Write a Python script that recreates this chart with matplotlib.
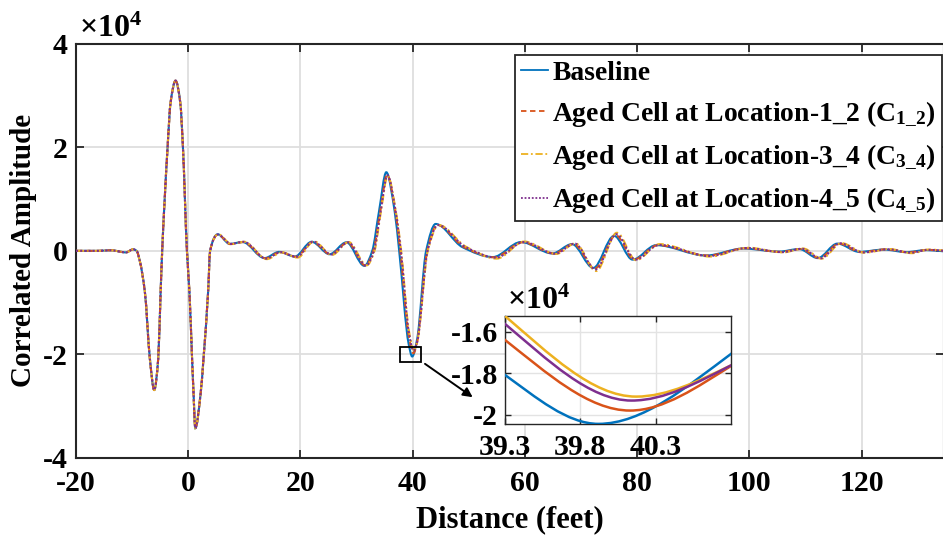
import numpy as np
import matplotlib
matplotlib.use("Agg")
import matplotlib.pyplot as plt
from matplotlib.path import Path
from matplotlib.patches import PathPatch, Rectangle
from matplotlib.lines import Line2D

plt.rcParams['font.family'] = ['Liberation Serif', 'DejaVu Serif']
plt.rcParams['font.weight'] = 'bold'
plt.rcParams['axes.unicode_minus'] = False
plt.rcParams['mathtext.fontset'] = 'custom'
plt.rcParams['mathtext.rm'] = 'Liberation Serif:bold'
plt.rcParams['mathtext.bf'] = 'Liberation Serif:bold'
plt.rcParams['mathtext.it'] = 'Liberation Serif:italic:bold'

# ---- correlated amplitude, key samples (distance in feet, amplitude) ----
base_x = [-20, -16, -13.8, -11.1, -9.8, -9.2, -8.6, -7.72, -6.83, -6.06, -5.35, -4.92,
          -4.64, -3.68, -3.14, -2.25, -1.42, -0.94, -0.23, 0.22, 0.69, 0.94, 1.26, 2.24,
          2.72, 3.54, 3.9, 5.26, 7.4, 9.7, 13.6, 16.2, 19.0, 22.0, 25.2, 28.2, 31.4,
          32.8, 34.0, 35.3, 36.8, 37.6, 39.3, 39.92, 40.8, 42.4, 44.1, 48.9, 54.3, 59.3,
          64.9, 68.4, 72.2, 75.9, 79.2, 83.4, 92.3, 99.0, 105.3, 108.9, 112.2, 115.7,
          119.6, 124.0, 128.0, 131.5, 134.7]
base_y = [0, 0, 120, -300, 300, 0, -2100, -8000, -20900, -26900, -20900, -8000,
          0, 20000, 28700, 32900, 28700, 20000, 0, -8000, -20900, -27300, -34300, -27300,
          -20900, -8000, 0, 3200, 1350, 1700, -1400, -200, -1100, 1750, -650, 1650, -2900,
          0, 7600, 15200, 7600, 0, -18080, -20430, -17070, 0, 5200, 700, -1200, 1700,
          -500, 1300, -3300, 2900, -1700, 1100, -900, 450, -150, 350, -1400, 1400,
          -200, 250, -250, 150, -100]

c12_x = [-20, -16, -13.8, -11.1, -9.8, -9.2, -8.6, -7.72, -6.83, -6.06, -5.35, -4.92,
         -4.64, -3.68, -3.14, -2.25, -1.42, -0.94, -0.23, 0.22, 0.69, 0.94, 1.26, 2.24,
         2.72, 3.54, 3.9, 5.3, 7.5, 9.8, 13.8, 16.4, 19.2, 22.2, 25.4, 28.4, 31.6,
         33.0, 34.2, 35.45, 36.95, 37.8, 39.3, 40.13, 40.8, 42.6, 44.4, 49.2, 54.6, 59.6,
         65.2, 68.7, 72.5, 76.2, 79.5, 83.7, 92.6, 99.3, 105.6, 109.2, 112.5, 116.0,
         119.9, 124.4, 128.4, 131.8, 134.7]
c12_y = [0, 0, 120, -300, 300, 0, -2100, -8000, -20900, -26900, -20900, -8000,
         0, 20000, 28700, 32900, 28700, 20000, 0, -8000, -20900, -27300, -34300, -27300,
         -20900, -8000, 0, 3150, 1300, 1700, -1450, -250, -1150, 1700, -700, 1600, -2850,
         0, 7400, 14700, 7400, 0, -16400, -19790, -17650, 0, 5000, 700, -1250, 1650,
         -500, 1300, -3400, 3000, -1650, 1100, -900, 500, -200, 350, -1400, 1400,
         -250, 300, -300, 200, 0]

c34_x = [-20, -16, -13.8, -11.1, -9.8, -9.2, -8.6, -7.72, -6.83, -6.06, -5.35, -4.92,
         -4.64, -3.68, -3.14, -2.25, -1.42, -0.94, -0.23, 0.22, 0.69, 0.94, 1.26, 2.24,
         2.72, 3.54, 3.9, 5.35, 7.7, 10.0, 14.0, 16.7, 19.5, 22.4, 25.6, 28.6, 31.8,
         33.2, 34.3, 35.55, 37.05, 37.95, 39.3, 40.17, 40.8, 42.7, 44.6, 49.5, 55.0, 59.9,
         65.6, 69.0, 72.7, 76.4, 79.8, 84.0, 93.0, 99.8, 106.0, 109.6, 112.9, 116.4,
         120.5, 125.0, 129.0, 132.0, 134.7]
c34_y = [0, 0, 120, -300, 300, 0, -2100, -8000, -20900, -26900, -20900, -8000,
         0, 20000, 28700, 32900, 28700, 20000, 0, -8000, -20900, -27300, -34300, -27300,
         -20900, -8000, 0, 3200, 1300, 1750, -1600, -300, -1300, 1850, -800, 1700, -2800,
         0, 7300, 14500, 7300, 0, -15250, -19120, -17620, 0, 5000, 800, -1500, 1800,
         -600, 1450, -3900, 3500, -1800, 1300, -1100, 600, -300, 450, -1500, 1500,
         -350, 350, -450, 250, 50]

c45_x = [-20, -16, -13.8, -11.1, -9.8, -9.2, -8.6, -7.72, -6.83, -6.06, -5.35, -4.92,
         -4.64, -3.68, -3.14, -2.25, -1.42, -0.94, -0.23, 0.22, 0.69, 0.94, 1.26, 2.24,
         2.72, 3.54, 3.9, 5.3, 7.6, 9.9, 13.9, 16.5, 19.3, 22.3, 25.5, 28.5, 31.7,
         33.1, 34.25, 35.5, 37.0, 37.9, 39.3, 40.14, 40.8, 42.65, 44.5, 49.4, 54.9, 59.8,
         65.4, 68.9, 72.6, 76.3, 79.7, 83.9, 92.8, 99.6, 105.9, 109.4, 112.7, 116.2,
         120.3, 124.8, 128.8, 132.0, 134.7]
c45_y = [0, 0, 120, -300, 300, 0, -2100, -8000, -20900, -26900, -20900, -8000,
         0, 20000, 28700, 32900, 28700, 20000, 0, -8000, -20900, -27300, -34300, -27300,
         -20900, -8000, 0, 3150, 1350, 1750, -1500, -250, -1150, 1800, -700, 1650, -2850,
         0, 7350, 14600, 7350, 0, -15630, -19310, -17620, 0, 5000, 750, -1300, 1700,
         -550, 1400, -3600, 3200, -1700, 1150, -1000, 550, -250, 400, -1450, 1450,
         -300, 300, -350, 200, 0]

labels = ['Baseline',
          r'Aged Cell at Location-1_2 (C$_{\mathbf{1\_2}}$)',
          r'Aged Cell at Location-3_4 (C$_{\mathbf{3\_4}}$)',
          r'Aged Cell at Location-4_5 (C$_{\mathbf{4\_5}}$)']
colors = ['#0072BD', '#D95319', '#EDB120', '#7E2F8E']
styles = ['-', (0, (3, 2)), (0, (4, 1.5, 1, 1.5)), (0, (1, 1))]

x_ticks = [-20, 0, 20, 40, 60, 80, 100, 120]
y_ticks = [-40000, -20000, 0, 20000, 40000]
y_tick_labels = ['-4', '-2', '0', '2', '4']
ix_ticks = [39.3, 39.8, 40.3]
iy_ticks = [-20000, -18000, -16000]
iy_tick_labels = ['-2', '-1.8', '-1.6']


def smooth_path(xs, ys):
    """Monotone cubic Hermite curve through the samples, as Bezier segments."""
    x = np.asarray(xs, float)
    y = np.asarray(ys, float)
    h = np.diff(x)
    d = np.diff(y) / h
    m = np.zeros_like(x)
    m[0], m[-1] = d[0], d[-1]
    for k in range(1, len(x) - 1):
        if d[k - 1] * d[k] > 0:
            w1 = 2 * h[k] + h[k - 1]
            w2 = h[k] + 2 * h[k - 1]
            m[k] = (w1 + w2) / (w1 / d[k - 1] + w2 / d[k])
    verts = [(x[0], y[0])]
    codes = [Path.MOVETO]
    for k in range(len(x) - 1):
        verts += [(x[k] + h[k] / 3, y[k] + m[k] * h[k] / 3),
                  (x[k + 1] - h[k] / 3, y[k + 1] - m[k + 1] * h[k] / 3),
                  (x[k + 1], y[k + 1])]
        codes += [Path.CURVE4] * 3
    return Path(verts, codes)


series = [(base_x, base_y), (c12_x, c12_y), (c34_x, c34_y), (c45_x, c45_y)]

fig = plt.figure(figsize=(9.43, 5.4), dpi=100)
ax = fig.add_axes([76 / 943, 1 - 457.7 / 540, 868 / 943, (457.7 - 44) / 540])

for (sx, sy), c, ls in zip(series, colors, styles):
    ax.add_patch(PathPatch(smooth_path(sx, sy), fill=False, edgecolor=c,
                           lw=1.5, linestyle=ls, zorder=3))

ax.set_xlim(-20, 134.7)
ax.set_ylim(-40000, 40000)
ax.set_xticks(x_ticks)
ax.set_xticklabels([str(v) for v in x_ticks])
ax.set_yticks(y_ticks)
ax.set_yticklabels(y_tick_labels)
ax.tick_params(direction='in', length=6, width=1.3, labelsize=21.5,
               top=True, right=True, color='#262626')
ax.tick_params(axis='x', pad=9)
ax.tick_params(axis='y', pad=6)
ax.grid(True, color='#dedede', lw=1.3)
ax.set_axisbelow(True)
for sp in ax.spines.values():
    sp.set_color('#262626')
    sp.set_linewidth(1.5)

ax.set_xlabel('Distance (feet)', fontsize=22, fontweight='bold', labelpad=6)
ax.set_ylabel('Correlated Amplitude', fontsize=21, fontweight='bold', labelpad=4)
ax.text(0.004, 1.0, '×10$^{\\mathbf{4}}$', transform=ax.transAxes,
        fontsize=23, ha='left', va='bottom')

handles = [Line2D([], [], color=c, lw=1.3, linestyle=ls) for c, ls in zip(colors, styles)]
leg = fig.legend(handles, labels, loc='upper right',
                 bbox_to_anchor=(941.5 / 943, 1 - 55 / 540),
                 bbox_transform=fig.transFigure, fontsize=19.9, frameon=True,
                 fancybox=False, edgecolor='#262626', framealpha=1,
                 handlelength=1.0, handletextpad=0.15, labelspacing=0.5,
                 borderpad=0.2, borderaxespad=0)
leg.get_frame().set_linewidth(1.3)

# zoom box and arrow
ax.add_patch(Rectangle((37.7, -21470), 3.7, 2900, fill=False, edgecolor='black',
                       lw=1.3, zorder=4))
ax.annotate('', xy=(50.7, -28300), xytext=(42.2, -21850),
            arrowprops=dict(arrowstyle='-|>', color='black', lw=1.4,
                            mutation_scale=14, shrinkA=0, shrinkB=0))

# inset
iax = fig.add_axes([505 / 943, 1 - 424.3 / 540, 226 / 943, 108.3 / 540])
for (sx, sy), c in zip(series, colors):
    iax.add_patch(PathPatch(smooth_path(sx, sy), fill=False, edgecolor=c,
                            lw=1.8, zorder=3))
iax.set_xlim(39.3, 40.8)
iax.set_ylim(-20450, -15250)
iax.set_xticks(ix_ticks)
iax.set_xticklabels([str(v) for v in ix_ticks])
iax.set_yticks(iy_ticks)
iax.set_yticklabels(iy_tick_labels)
iax.tick_params(direction='in', length=4, width=1.0, labelsize=21.5,
                top=True, right=True, color='#262626')
iax.tick_params(axis='x', pad=7)
iax.tick_params(axis='y', pad=5)
iax.grid(True, color='#e3e3e3', lw=1.0)
iax.set_axisbelow(True)
for sp in iax.spines.values():
    sp.set_color('#262626')
    sp.set_linewidth(1.0)
iax.text(0.01, 1.0, '×10$^{\\mathbf{4}}$', transform=iax.transAxes,
         fontsize=23, ha='left', va='bottom')

fig.savefig('out.png', dpi=100, facecolor='white')
